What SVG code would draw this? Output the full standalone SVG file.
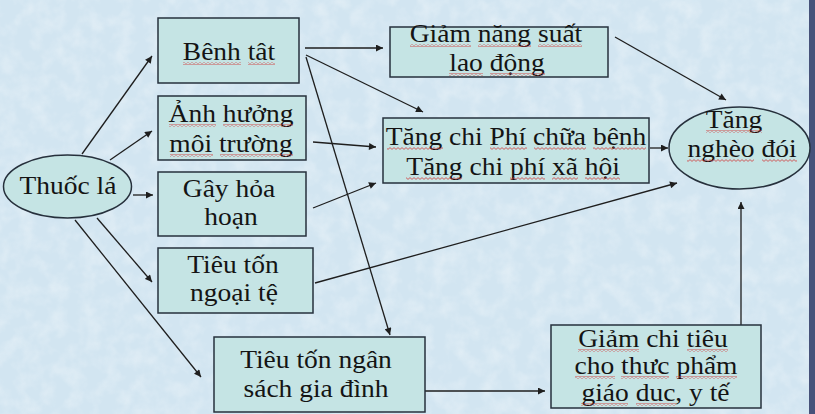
<svg xmlns="http://www.w3.org/2000/svg" width="815" height="414" viewBox="0 0 815 414">
<defs>
<style>
.box{fill:#c5e4e4;stroke:#26303c;stroke-width:1.5}
.t{font-family:"Liberation Serif","Times New Roman",serif;font-size:25px;fill:#141414;text-anchor:middle}
.c{stroke:#1e1e1e;stroke-width:1.3;fill:none;marker-end:url(#ah)}
.ul{fill:url(#wave)}
</style>
<marker id="ah" viewBox="0 0 10 10" refX="10" refY="5" markerWidth="8" markerHeight="7" markerUnits="userSpaceOnUse" orient="auto">
<path d="M0,0 L10,5 L0,10 z" fill="#1e1e1e"/>
</marker>
<pattern id="wave" width="4" height="3" patternUnits="userSpaceOnUse">
<path d="M0,2.4 L2,0.6 L4,2.4" fill="none" stroke="#d23a3a" stroke-width="0.8"/>
</pattern>
<filter id="tex" x="0" y="0" width="100%" height="100%">
<feTurbulence type="fractalNoise" baseFrequency="0.06" numOctaves="3" seed="4" result="n"/>
<feColorMatrix in="n" type="matrix" values="0 0 0 0 1  0 0 0 0 1  0 0 0 0 1  0 0 0 0.9 -0.35"/>
</filter>
</defs>
<rect x="0" y="0" width="815" height="414" fill="#d2e5f1"/>
<rect x="0" y="0" width="815" height="414" filter="url(#tex)" opacity="0.7"/>
<rect x="809" y="0" width="6" height="414" fill="#46527a"/>

<g id="connectors">
<line class="c" x1="82" y1="154" x2="152" y2="56"/>
<line class="c" x1="110" y1="160" x2="152" y2="131"/>
<line class="c" x1="133" y1="195" x2="153" y2="195"/>
<line class="c" x1="97" y1="218" x2="152" y2="282"/>
<line class="c" x1="75" y1="220" x2="201" y2="377"/>
<line class="c" x1="305" y1="48" x2="383" y2="48"/>
<line class="c" x1="306" y1="55" x2="423" y2="112"/>
<line class="c" x1="306" y1="57" x2="390" y2="335"/>
<line class="c" x1="313" y1="142" x2="376" y2="147"/>
<line class="c" x1="313" y1="208" x2="376" y2="183"/>
<line class="c" x1="315" y1="283" x2="677" y2="183"/>
<line class="c" x1="615" y1="37" x2="726" y2="100"/>
<line class="c" x1="650" y1="148" x2="668" y2="148"/>
<line class="c" x1="425" y1="391" x2="545" y2="391"/>
<line class="c" x1="741" y1="325" x2="741" y2="202"/>
</g>

<g id="thuoc-la">
<ellipse class="box" cx="67.5" cy="186.5" rx="64" ry="31.5"/>
<text class="t" transform="translate(68,194) scale(1.1,1)">Thuốc lá</text>
</g>

<g id="benh-tat">
<rect class="box" x="158" y="18" width="141" height="65"/>
<text class="t" transform="translate(229,60) scale(1.1,1)">Bênh tât</text>
<rect class="ul" x="183" y="62" width="58" height="3"/>
<rect class="ul" x="248" y="62" width="27" height="3"/>
</g>

<g id="anh-huong">
<rect class="box" x="158" y="96" width="148" height="64"/>
<text class="t" transform="translate(231,122) scale(1.1,1)">Ảnh hưởng</text>
<text class="t" transform="translate(231,152) scale(1.1,1)">môi trường</text>
<rect class="ul" x="169" y="124" width="47" height="3"/>
<rect class="ul" x="223" y="124" width="70" height="3"/>
<rect class="ul" x="170" y="154" width="43" height="3"/>
<rect class="ul" x="220" y="154" width="73" height="3"/>
</g>

<g id="gay-hoa-hoan">
<rect class="box" x="158" y="172" width="148" height="64"/>
<text class="t" transform="translate(229,197) scale(1.1,1)">Gây hỏa</text>
<text class="t" transform="translate(231,225) scale(1.1,1)">hoạn</text>
</g>

<g id="tieu-ton-ngoai-te">
<rect class="box" x="158" y="248" width="155" height="65"/>
<text class="t" transform="translate(233,273) scale(1.1,1)">Tiêu tốn</text>
<text class="t" transform="translate(234,301) scale(1.1,1)">ngoại tệ</text>
</g>

<g id="tieu-ton-ngan-sach">
<rect class="box" x="214" y="337" width="211" height="75"/>
<text class="t" transform="translate(316,368) scale(1.1,1)">Tiêu tốn ngân</text>
<text class="t" transform="translate(316,397) scale(1.1,1)">sách gia đình</text>
</g>

<g id="giam-nang-suat">
<rect class="box" x="390" y="27" width="218" height="50"/>
<text class="t" transform="translate(496,42) scale(1.1,1)">Giảm năng suất</text>
<text class="t" transform="translate(497,71) scale(1.1,1)">lao động</text>
<rect class="ul" x="410" y="44" width="61" height="3"/>
<rect class="ul" x="478" y="44" width="53" height="3"/>
<rect class="ul" x="538" y="44" width="44" height="3"/>
<rect class="ul" x="449" y="73" width="34" height="3"/>
<rect class="ul" x="490" y="73" width="55" height="3"/>
</g>

<g id="tang-chi-phi">
<rect class="box" x="383" y="118" width="266" height="65"/>
<text class="t" transform="translate(516,145) scale(1.1,1)">Tăng chi Phí chữa bệnh</text>
<text class="t" transform="translate(513,175) scale(1.1,1)">Tăng chi phí xã hội</text>
<rect class="ul" x="387" y="147" width="56" height="3"/>
<rect class="ul" x="490" y="147" width="37" height="3"/>
<rect class="ul" x="534" y="147" width="52" height="3"/>
<rect class="ul" x="593" y="147" width="53" height="3"/>
<rect class="ul" x="406" y="177" width="56" height="3"/>
<rect class="ul" x="510" y="177" width="35" height="3"/>
<rect class="ul" x="552" y="177" width="26" height="3"/>
<rect class="ul" x="585" y="177" width="35" height="3"/>
</g>

<g id="tang-ngheo-doi">
<ellipse class="box" cx="739.5" cy="148" rx="70.5" ry="41"/>
<text class="t" transform="translate(734,128) scale(1.1,1)">Tăng</text>
<text class="t" transform="translate(742,157) scale(1.1,1)">nghèo đói</text>
<rect class="ul" x="706" y="130" width="56" height="3"/>
<rect class="ul" x="687" y="159" width="67" height="3"/>
<rect class="ul" x="762" y="159" width="35" height="3"/>
</g>

<g id="giam-chi-tieu">
<rect class="box" x="551" y="325" width="210" height="83"/>
<text class="t" transform="translate(653,347) scale(1.1,1)">Giảm chi tiêu</text>
<text class="t" transform="translate(656,374) scale(1.1,1)">cho thưc phẩm</text>
<text class="t" transform="translate(655.5,401) scale(1.1,1)">giáo duc, y tế</text>
<rect class="ul" x="578" y="349" width="61" height="3"/>
<rect class="ul" x="687" y="349" width="41" height="3"/>
<rect class="ul" x="575" y="376" width="40" height="3"/>
<rect class="ul" x="621" y="376" width="48" height="3"/>
<rect class="ul" x="676" y="376" width="61" height="3"/>
<rect class="ul" x="581" y="403" width="47" height="3"/>
<rect class="ul" x="636" y="403" width="40" height="3"/>
</g>
</svg>
